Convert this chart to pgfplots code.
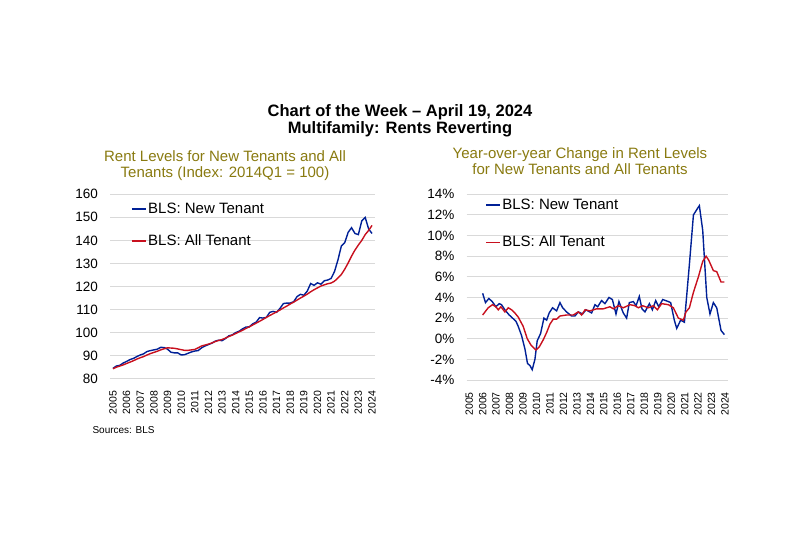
\documentclass[border=0pt]{standalone}
\usepackage{pgfplots}
\pgfplotsset{compat=1.18}
\usepackage{fontspec}
\setmainfont{Liberation Sans}

\definecolor{newblue}{RGB}{0,32,150}
\definecolor{allred}{RGB}{200,16,30}
\definecolor{olive}{RGB}{137,122,16}
\definecolor{gridgray}{RGB}{217,217,217}

\pgfplotsset{
  rentaxis/.style={
    scale only axis,
    axis line style={draw=none},
    tick style={draw=none},
    major tick length=0pt,
    ymajorgrids,
    grid style={gridgray, line width=0.9pt},
    xtick={2005,...,2024},
    xticklabel shift=12pt,
    yticklabel shift=12pt,
    xticklabel style={rotate=90, anchor=east, inner sep=0pt, font=\fontsize{10.5}{12}\selectfont},
    yticklabel style={anchor=east, inner sep=0pt, font=\fontsize{13.5}{15}\selectfont},
    /pgf/number format/assume math mode=true,
    /pgf/number format/1000 sep={},
    legend cell align=left,
    legend image code/.code={\draw[##1, line width=1.6pt] (0pt,0pt) -- (14pt,0pt);},
    every axis plot/.append style={line width=1.4pt},
  },
}

\begin{document}
\begin{tikzpicture}
\path[use as bounding box] (0pt,0pt) rectangle (800pt,553pt);

% titles
\node[anchor=base, font=\bfseries\fontsize{16.5}{18}\selectfont] at (400pt,436pt) {Chart of the Week – April 19, 2024};
\node[anchor=base, font=\bfseries\fontsize{16.5}{18}\selectfont] at (400pt,419pt) {Multifamily: Rents Reverting};
\node[anchor=base, text=olive, font=\fontsize{15}{17}\selectfont] at (225pt,391.7pt) {Rent Levels for New Tenants and All};
\node[anchor=base, text=olive, font=\fontsize{15}{17}\selectfont] at (225pt,375.6pt) {Tenants (Index: 2014Q1 = 100)};
\node[anchor=base, text=olive, font=\fontsize{15}{17}\selectfont] at (580pt,394.6pt) {Year-over-year Change in Rent Levels};
\node[anchor=base, text=olive, font=\fontsize{15}{17}\selectfont] at (580pt,378.6pt) {for New Tenants and All Tenants};
\node[anchor=base west, font=\fontsize{10}{12}\selectfont] at (89pt,119pt) {Sources: BLS};

% left: index levels
\begin{axis}[rentaxis,
  at={(110pt,174.3pt)}, anchor=south west,
  width=265pt, height=184.4pt,
  xmin=2004.78, xmax=2024.22,
  ymin=80, ymax=160, ytick={80,90,...,160},
  legend style={draw=none, fill=none, at={(0.079,0.958)}, anchor=north west,
    font=\fontsize{15}{17}\selectfont, inner sep=0pt, row sep=18pt, column sep=1.5pt,
    nodes={inner sep=0pt, text height=11pt, text depth=3pt}},
]
\addplot[newblue] coordinates {
(2005.00,84.5) (2005.25,85.5) (2005.50,85.8) (2005.75,86.8)
(2006.00,87.5) (2006.25,88.3) (2006.50,88.8) (2006.75,89.6)
(2007.00,90.3) (2007.25,90.8) (2007.50,91.8) (2007.75,92.2)
(2008.00,92.5) (2008.25,92.8) (2008.50,93.6) (2008.75,93.5)
(2009.00,92.8) (2009.25,91.5) (2009.50,91.2) (2009.75,91.2)
(2010.00,90.3) (2010.25,90.4) (2010.50,91.0) (2010.75,91.6)
(2011.00,92.0) (2011.25,92.2) (2011.50,93.4) (2011.75,94.2)
(2012.00,94.8) (2012.25,95.4) (2012.50,96.3) (2012.75,96.7)
(2013.00,96.5) (2013.25,97.4) (2013.50,98.6) (2013.75,99.0)
(2014.00,100.0) (2014.25,100.6) (2014.50,101.6) (2014.75,102.4)
(2015.00,102.5) (2015.25,103.8) (2015.50,104.5) (2015.75,106.5)
(2016.00,106.3) (2016.25,106.6) (2016.50,108.8) (2016.75,109.2)
(2017.00,108.8) (2017.25,110.5) (2017.50,112.6) (2017.75,112.8)
(2018.00,112.8) (2018.25,113.4) (2018.50,115.6) (2018.75,116.6)
(2019.00,116.2) (2019.25,118.0) (2019.50,121.3) (2019.75,120.5)
(2020.00,121.6) (2020.25,121.0) (2020.50,122.5) (2020.75,122.8)
(2021.00,123.5) (2021.25,126.5) (2021.50,131.5) (2021.75,137.5)
(2022.00,139.0) (2022.25,143.5) (2022.50,145.5) (2022.75,143.0)
(2023.00,142.5) (2023.25,148.5) (2023.50,150.0) (2023.75,145.0)
(2024.00,143.0)
};
\addlegendentry{BLS: New Tenant}
\addplot[allred] coordinates {
(2005.00,84.3) (2005.25,85.0) (2005.50,85.5) (2005.75,86.0)
(2006.00,86.6) (2006.25,87.2) (2006.50,87.8) (2006.75,88.5)
(2007.00,89.1) (2007.25,89.6) (2007.50,90.3) (2007.75,90.9)
(2008.00,91.4) (2008.25,91.9) (2008.50,92.5) (2008.75,93.0)
(2009.00,93.4) (2009.25,93.3) (2009.50,93.2) (2009.75,92.9)
(2010.00,92.6) (2010.25,92.3) (2010.50,92.3) (2010.75,92.5)
(2011.00,92.7) (2011.25,93.4) (2011.50,94.2) (2011.75,94.6)
(2012.00,95.0) (2012.25,95.5) (2012.50,96.1) (2012.75,96.6)
(2013.00,97.0) (2013.25,97.6) (2013.50,98.3) (2013.75,98.9)
(2014.00,99.6) (2014.25,100.3) (2014.50,101.0) (2014.75,101.8)
(2015.00,102.5) (2015.25,103.3) (2015.50,104.1) (2015.75,104.9)
(2016.00,105.7) (2016.25,106.6) (2016.50,107.4) (2016.75,108.2)
(2017.00,109.0) (2017.25,109.8) (2017.50,110.7) (2017.75,111.5)
(2018.00,112.4) (2018.25,113.2) (2018.50,114.1) (2018.75,115.0)
(2019.00,115.8) (2019.25,116.7) (2019.50,117.7) (2019.75,118.6)
(2020.00,119.4) (2020.25,120.2) (2020.50,120.7) (2020.75,121.2)
(2021.00,121.5) (2021.25,122.3) (2021.50,123.7) (2021.75,125.2)
(2022.00,127.5) (2022.25,130.2) (2022.50,133.2) (2022.75,135.8)
(2023.00,138.0) (2023.25,140.0) (2023.50,142.5) (2023.75,144.3)
(2024.00,146.5)
};
\addlegendentry{BLS: All Tenant}
\end{axis}

% right: year-over-year change
\begin{axis}[rentaxis,
  at={(466.5pt,173pt)}, anchor=south west,
  width=261pt, height=185.7pt,
  xmin=2004.8, xmax=2024.18,
  ymin=-4, ymax=14, ytick={-4,-2,0,2,4,6,8,10,12,14},
  yticklabels={-4\%,-2\%,0\%,2\%,4\%,6\%,8\%,10\%,12\%,14\%},
  legend style={draw=none, fill=none, at={(0.071,0.981)}, anchor=north west,
    font=\fontsize{15}{17}\selectfont, inner sep=0pt, row sep=23.5pt, column sep=1.5pt,
    nodes={inner sep=0pt, text height=11pt, text depth=3pt}},
]
\addplot[newblue] coordinates {
(2006.00,4.4) (2006.21,3.5) (2006.46,3.9) (2006.71,3.6) (2006.98,3.1)
(2007.23,3.4) (2007.40,3.3) (2007.65,2.8) (2007.97,2.3) (2008.22,2.0)
(2008.47,1.7) (2008.64,1.2) (2008.89,0.3) (2009.14,-1.0) (2009.33,-2.4)
(2009.51,-2.6) (2009.68,-3.0) (2009.88,-2.0) (2010.05,-0.2) (2010.30,0.5)
(2010.55,2.0) (2010.75,1.8) (2010.94,2.5) (2011.19,3.0) (2011.49,2.7)
(2011.74,3.5) (2011.94,3.0) (2012.23,2.6) (2012.60,2.2) (2012.85,2.2)
(2013.10,2.6) (2013.42,2.4) (2013.67,2.8) (2014.09,2.5) (2014.34,3.3)
(2014.54,3.1) (2014.83,3.7) (2015.08,3.4) (2015.38,4.0) (2015.63,3.8)
(2015.90,2.4) (2016.12,3.6) (2016.44,2.5) (2016.69,2.0) (2016.89,3.5)
(2017.19,3.6) (2017.39,3.2) (2017.63,4.1) (2017.83,2.9) (2018.05,2.6)
(2018.38,3.4) (2018.60,2.8) (2018.85,3.7) (2019.07,3.1) (2019.37,3.8)
(2019.79,3.6) (2019.96,3.5) (2020.23,1.8) (2020.41,1.0) (2020.70,1.8)
(2020.98,1.6) (2021.35,7.2) (2021.65,12.0) (2021.89,12.5) (2022.09,12.9)
(2022.34,10.5) (2022.64,4.0) (2022.88,2.4) (2023.13,3.5) (2023.38,3.0)
(2023.70,0.8) (2023.95,0.4)
};
\addlegendentry{BLS: New Tenant}
\addplot[allred] coordinates {
(2006.00,2.3) (2006.41,3.0) (2006.73,3.3) (2006.98,3.1) (2007.16,2.8)
(2007.35,3.1) (2007.65,2.6) (2007.90,3.0) (2008.15,2.8) (2008.39,2.5)
(2008.64,2.1) (2009.01,1.2) (2009.31,0.0) (2009.58,-0.6) (2009.95,-1.1)
(2010.20,-0.8) (2010.50,-0.1) (2010.75,0.6) (2010.99,1.4) (2011.24,1.9)
(2011.49,1.9) (2011.74,2.2) (2012.23,2.3) (2012.73,2.3) (2013.10,2.6)
(2013.35,2.3) (2013.60,2.8) (2013.97,2.7) (2014.46,2.9) (2014.96,2.9)
(2015.45,3.1) (2015.70,2.9) (2016.07,3.2) (2016.44,3.0) (2016.94,3.3)
(2017.31,3.2) (2017.56,3.0) (2017.88,3.2) (2018.30,3.0) (2018.67,3.2)
(2018.97,2.8) (2019.29,3.4) (2019.79,3.3) (2020.16,3.0) (2020.53,2.0)
(2020.90,1.8) (2021.10,2.6) (2021.35,3.0) (2021.65,4.5) (2022.02,6.0)
(2022.34,7.5) (2022.59,8.0) (2022.79,7.6) (2023.13,6.6) (2023.38,6.5)
(2023.70,5.5) (2023.95,5.5)
};
\addlegendentry{BLS: All Tenant}
\end{axis}
\end{tikzpicture}
\end{document}
